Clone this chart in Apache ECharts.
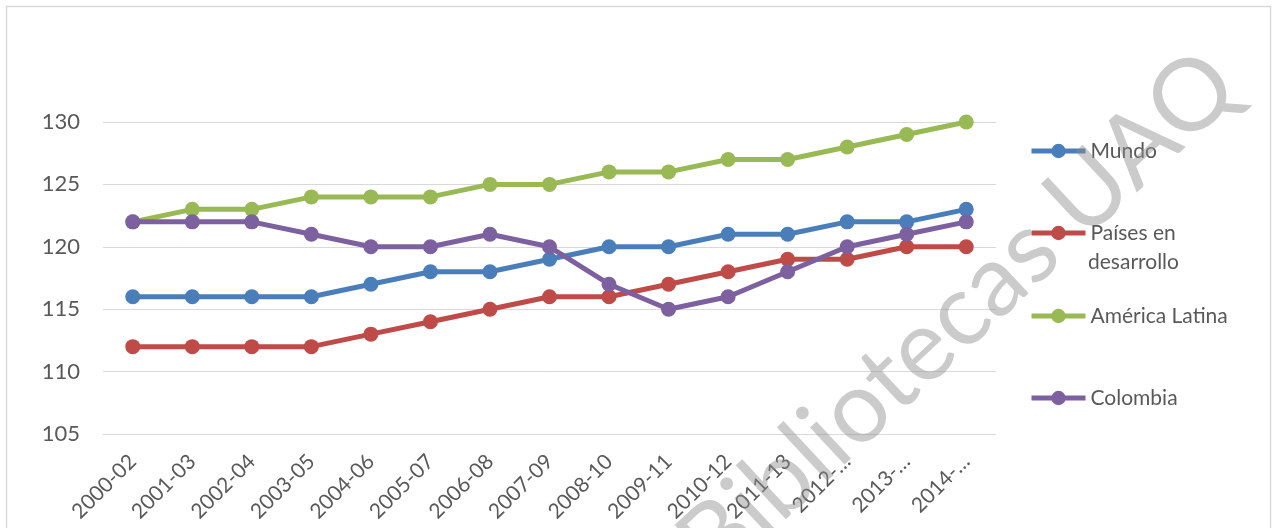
<!DOCTYPE html>
<html>
<head>
<meta charset="utf-8">
<script src="https://cdn.jsdelivr.net/npm/echarts@6/dist/echarts.min.js"></script>
<style>
html,body{margin:0;padding:0;background:#fff;}
#chart{width:1274px;height:528px;}
</style>
</head>
<body>
<div id="chart"></div>
<script>
const categories = ["2000-02","2001-03","2002-04","2003-05","2004-06","2005-07","2006-08","2007-09","2008-10","2009-11","2010-12","2011-13","2012-…","2013-…","2014-…"];
const mundo = [116,116,116,116,117,118,118,119,120,120,121,121,122,122,123];
const paises = [112,112,112,112,113,114,115,116,116,117,118,119,119,120,120];
const americaLatina = [122,123,123,124,124,124,125,125,126,126,127,127,128,129,130];
const colombia = [122,122,122,121,120,120,121,120,117,115,116,118,120,121,122];
const seriesNames = ["Mundo","Países en desarrollo","América Latina","Colombia"];
const yTicks = {min:105, max:130, interval:5};

const colors = ["#4a7ebb","#be4b48","#98b954","#7d60a0"];
const font = "Lato, 'Open Sans', sans-serif";
const txt = "#595959";

const chart = echarts.init(document.getElementById('chart'), null, {renderer:'canvas'});

function mkSeries(name, data, color, z){
  return {
    name, type:'line', data, z,
    symbol:'circle', symbolSize:15,
    lineStyle:{color, width:5},
    itemStyle:{color},
    animation:false
  };
}
function mkLegend(name, top, formatter){
  return {
    data:[name], orient:'vertical', left:1029, top, padding:0,
    itemWidth:54, itemHeight:18, itemGap:0,
    lineStyle:{width:5},
    textStyle:{fontFamily:font, fontSize:21, color:txt, lineHeight:24},
    formatter:formatter,
    selectedMode:false
  };
}

chart.setOption({
  animation:false,
  backgroundColor:'#fff',
  grid:{left:103, right:278, top:122, bottom:94, containLabel:false},
  xAxis:{
    type:'category', data:categories, boundaryGap:true,
    axisLine:{show:true, lineStyle:{color:'#d9d9d9', width:1}},
    axisTick:{show:false},
    axisLabel:{rotate:45, interval:0, margin:24, fontFamily:font, fontSize:21, color:txt}
  },
  yAxis:{
    type:'value', min:yTicks.min, max:yTicks.max, interval:yTicks.interval,
    axisLine:{show:false}, axisTick:{show:false},
    splitLine:{lineStyle:{color:'#d9d9d9', width:1}},
    axisLabel:{margin:23, fontFamily:font, fontSize:22, color:txt}
  },
  legend:[
    mkLegend(seriesNames[0], 139),
    mkLegend(seriesNames[1], 221, ()=> 'Países en'),
    mkLegend(seriesNames[2], 304),
    mkLegend(seriesNames[3], 386)
  ],
  series:[
    mkSeries(seriesNames[0], mundo, colors[0], 2),
    mkSeries(seriesNames[1], paises, colors[1], 3),
    mkSeries(seriesNames[2], americaLatina, colors[2], 4),
    mkSeries(seriesNames[3], colombia, colors[3], 5)
  ],
  graphic:[
    {type:'rect', shape:{x:6.5, y:6.5, width:1264, height:530}, style:{fill:'none', stroke:'#d9d9d9', lineWidth:1.5}, z:0, silent:true},
    {type:'text', x:1088, y:262, z:10, silent:true,
     style:{text:'desarrollo', font:"21px Lato, 'Open Sans', sans-serif", fill:txt, align:'left', verticalAlign:'middle'}},
    {type:'text', x:958, y:315, rotation:0.75, z:100, silent:true,
     style:{text:'Bibliotecas UAQ', font:"100px Lato, 'Open Sans', sans-serif", fill:'rgba(140,140,140,0.45)', align:'center', verticalAlign:'middle', textAlign:'center', textVerticalAlign:'middle'}}
  ]
});
</script>
</body>
</html>
